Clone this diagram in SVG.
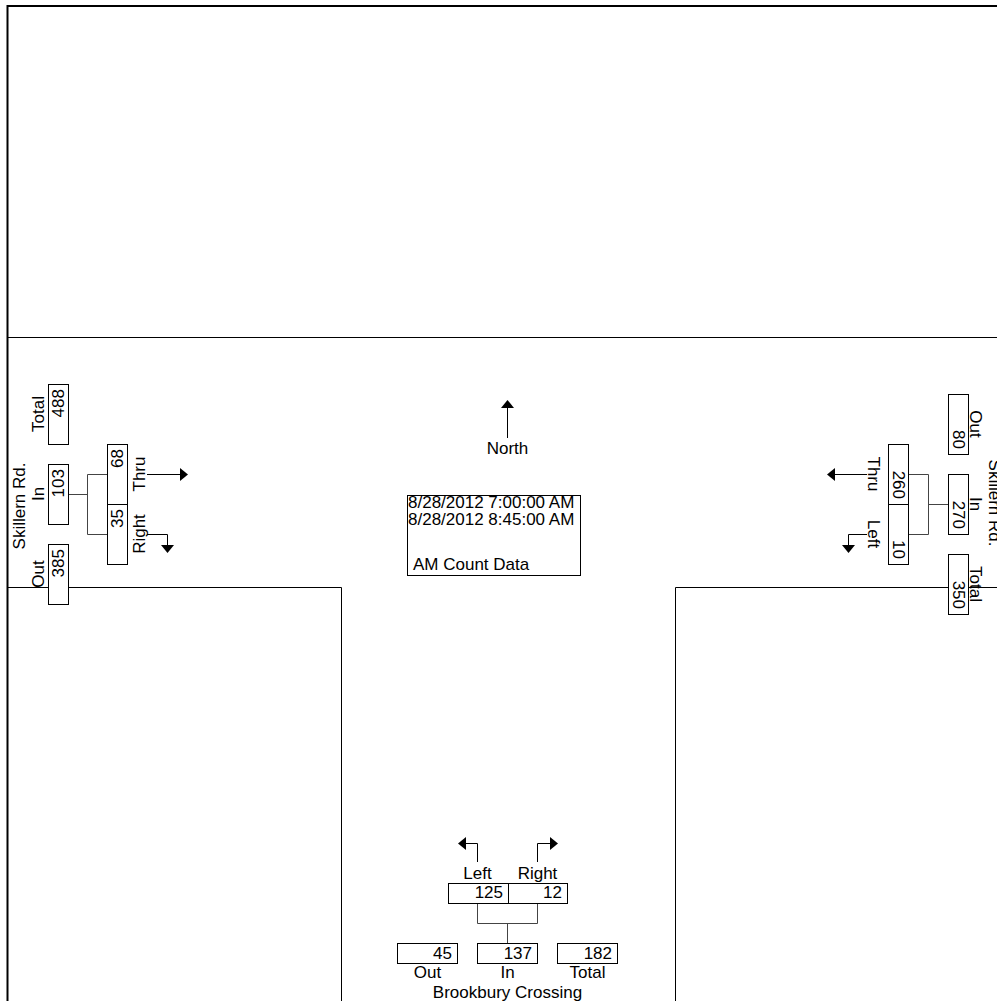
<svg xmlns="http://www.w3.org/2000/svg" width="997" height="1001" viewBox="0 0 997 1001">
<style>
text{font-family:"Liberation Sans",Arial,sans-serif;font-size:17px;fill:#000}
.b{fill:#fff;stroke:#000;stroke-width:1}
.m{text-anchor:middle}
.e{text-anchor:end}
.c{fill:none;stroke:#444;stroke-width:1}
.a{fill:none;stroke:#000;stroke-width:1}
.h{fill:#000;stroke:none}
.f{fill:none;stroke:#000}
</style>
<g id="frame">
<path class="f" stroke-width="2" d="M7.5,1001 V6 H997"/>
<path class="f" stroke-width="1" d="M7,337.5 H997 M7,587.5 H341.5 V1001 M997,587.5 H675.5 V1001"/>
</g>
<g id="connectors">
<path class="c" d="M68,494.5 H87.5 M87.5,474.5 V534.5 M87.5,474.5 H107 M87.5,534.5 H107"/>
<path class="c" d="M948,504.5 H928.5 M928.5,474.5 V534.5 M928.5,474.5 H908 M928.5,534.5 H908"/>
<path class="c" d="M477.5,903 V923.5 M537.5,903 V923.5 M477.5,923.5 H537.5 M507.5,923.5 V943"/>
<path class="a" d="M147,474.5 H180 M147,534.5 H167.5 V545"/>
<polygon class="h" points="180,468 188,474.5 180,481"/>
<polygon class="h" points="161,545 167.5,553 174,545"/>
<path class="a" d="M867,474.5 H835 M867,534.5 H848.5 V545"/>
<polygon class="h" points="835,468 827,474.5 835,481"/>
<polygon class="h" points="842,545 848.5,553 855,545"/>
<path class="a" d="M477.5,862 V843.5 H466 M537.5,862 V843.5 H550"/>
<polygon class="h" points="466,837 458,843.5 466,850"/>
<polygon class="h" points="550,837 558,843.5 550,850"/>
<path class="a" d="M507.5,438 V408"/>
<polygon class="h" points="501,408 507.5,400 514,408"/>
</g>
<g id="west">
<text class="m" transform="translate(25,506) rotate(-90)">Skillern Rd.</text>
<rect class="b" x="48.5" y="384.5" width="20" height="60"/>
<text class="e" transform="translate(63.5,389) rotate(-90)">488</text>
<text class="m" transform="translate(44,414) rotate(-90)">Total</text>
<rect class="b" x="48.5" y="464.5" width="20" height="60"/>
<text class="e" transform="translate(63.5,469) rotate(-90)">103</text>
<text class="m" transform="translate(44,494) rotate(-90)">In</text>
<rect class="b" x="48.5" y="544.5" width="20" height="60"/>
<text class="e" transform="translate(63.5,549) rotate(-90)">385</text>
<text class="m" transform="translate(44,574) rotate(-90)">Out</text>
<rect class="b" x="107.5" y="444.5" width="20" height="60"/>
<text class="e" transform="translate(122.5,449) rotate(-90)">68</text>
<text class="m" transform="translate(145,474) rotate(-90)">Thru</text>
<rect class="b" x="107.5" y="504.5" width="20" height="60"/>
<text class="e" transform="translate(122.5,509) rotate(-90)">35</text>
<text class="m" transform="translate(145,534) rotate(-90)">Right</text>
</g>
<g id="east">
<text class="m" transform="translate(989,503) rotate(90)">Skillern Rd.</text>
<rect class="b" x="948.5" y="394.5" width="20" height="60"/>
<text class="e" transform="translate(952.5,449) rotate(90)">80</text>
<text class="m" transform="translate(970,424) rotate(90)">Out</text>
<rect class="b" x="948.5" y="474.5" width="20" height="60"/>
<text class="e" transform="translate(952.5,529) rotate(90)">270</text>
<text class="m" transform="translate(970,504) rotate(90)">In</text>
<rect class="b" x="948.5" y="554.5" width="20" height="60"/>
<text class="e" transform="translate(952.5,609) rotate(90)">350</text>
<text class="m" transform="translate(970,584) rotate(90)">Total</text>
<rect class="b" x="888.5" y="444.5" width="20" height="60"/>
<text class="e" transform="translate(892.5,499) rotate(90)">260</text>
<text class="m" transform="translate(868,474) rotate(90)">Thru</text>
<rect class="b" x="888.5" y="504.5" width="20" height="60"/>
<text class="e" transform="translate(892.5,559) rotate(90)">10</text>
<text class="m" transform="translate(868,534) rotate(90)">Left</text>
</g>
<g id="south">
<text class="m" x="477.5" y="879">Left</text>
<text class="m" x="537.5" y="879">Right</text>
<rect class="b" x="448.5" y="883.5" width="60" height="20"/>
<text class="e" x="503" y="898">125</text>
<rect class="b" x="508.5" y="883.5" width="59" height="20"/>
<text class="e" x="562" y="898">12</text>
<rect class="b" x="397.5" y="943.5" width="60" height="20"/>
<text class="e" x="452" y="959">45</text>
<text class="m" x="427.5" y="978">Out</text>
<rect class="b" x="477.5" y="943.5" width="60" height="20"/>
<text class="e" x="532" y="959">137</text>
<text class="m" x="507.5" y="978">In</text>
<rect class="b" x="557.5" y="943.5" width="60" height="20"/>
<text class="e" x="612" y="959">182</text>
<text class="m" x="587.5" y="978">Total</text>
<text class="m" x="507.5" y="998">Brookbury Crossing</text>
</g>
<g id="north">
<text class="m" x="507.5" y="454">North</text>
</g>
<g id="info">
<rect class="b" x="407.5" y="495.5" width="173" height="80"/>
<text x="408" y="508">8/28/2012 7:00:00 AM</text>
<text x="408" y="525">8/28/2012 8:45:00 AM</text>
<text x="413" y="570">AM Count Data</text>
</g>
</svg>
